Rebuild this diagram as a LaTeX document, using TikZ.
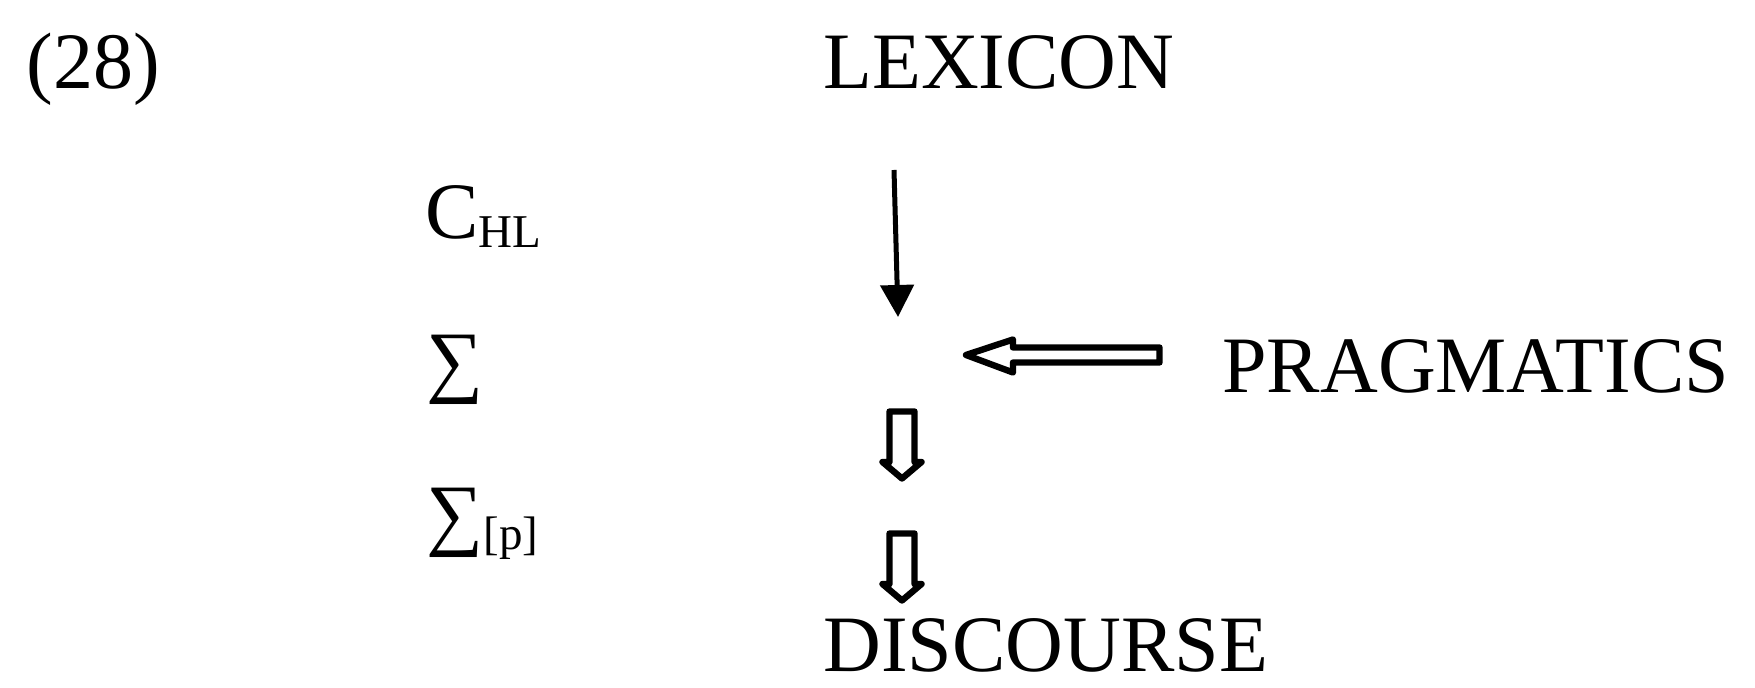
\documentclass[tikz,border=0pt]{standalone}
\usepackage{fontspec}
\setmainfont{Liberation Serif}
\usetikzlibrary{arrows.meta}
\tikzset{
  word/.style={inner sep=0pt, anchor=base west, font=\fontsize{40}{48}\selectfont},
  thinarrow/.style={line width=2.5pt, -{Triangle[length=16pt,width=16.5pt]}},
  hollow/.style={draw, line width=3.2pt, line join=round, fill=white},
}
\newcommand{\subtext}[1]{\raisebox{-4.5pt}{\fontsize{23.5}{26}\selectfont #1}}
\begin{document}
\begin{tikzpicture}[x=0.5pt,y=-0.5pt]
  \useasboundingbox (0,0) rectangle (1755,688);

  % labels
  \node[word] (ex)   at (26,89)   {(28)};
  \node[word] (lex)  at (823,89)  {LEXICON};
  \node[word] (chl)  at (425,239) {C\subtext{HL}};
  \node[word] (sig)  at (426,388) {∑};
  \node[word] (sigp) at (426,541) {∑\subtext{[p]}};
  \node[word] (prag) at (1222,393){PRAGMATICS};
  \node[word] (disc) at (823,671) {DISCOURSE};

  % lexical input arrow
  \coordinate (lexout) at (894,170);
  \coordinate (lexin)  at (898,317);
  \draw[thinarrow] (lexout) -- (lexin);

  % pragmatic input arrow (hollow, pointing left)
  \coordinate (pragtip) at (966,355);
  \draw[hollow] (pragtip) -- (1013,339.5) -- (1013,347.5) -- (1159.5,347.5)
        -- (1159.5,362.5) -- (1013,362.5) -- (1013,372.5) -- cycle;

  % derivation steps (hollow, pointing down)
  \foreach \n/\y in {1/411.5, 2/533.5}{
    \coordinate (stage\n) at (900.5,\y);
    \draw[hollow] (stage\n) ++(-11,0) -- ++(0,50.5) -- ++(-7,0) -- ++(19.5,16.5)
          -- ++(19.5,-16.5) -- ++(-7,0) -- ++(0,-50.5) -- cycle;
  }
\end{tikzpicture}
\end{document}
